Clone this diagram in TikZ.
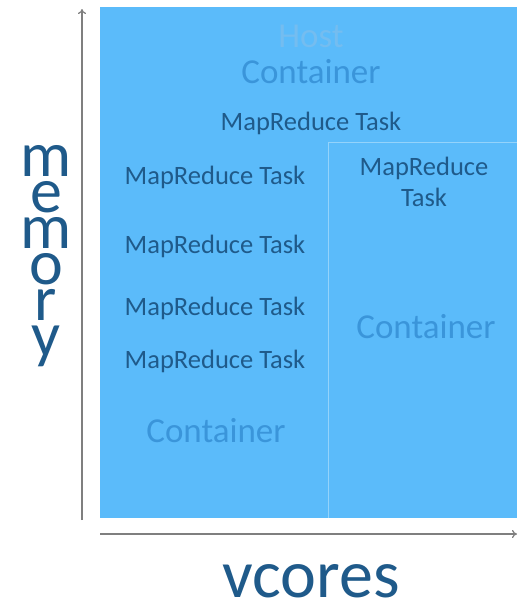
\documentclass[tikz,border=0pt]{standalone}
\usepackage{fontspec}
\setmainfont{Carlito}
\usetikzlibrary{arrows.meta}

\definecolor{hostfill}{HTML}{5BBBFA}
\definecolor{splitline}{HTML}{94D3FB}
\definecolor{taskblue}{HTML}{1F5A8A}
\definecolor{contblue}{HTML}{3A95DA}
\definecolor{hostword}{HTML}{74BDF0}
\definecolor{axisgray}{HTML}{7F7F7F}

\tikzset{
  box/.style={inner sep=0pt, outer sep=0pt},
  task/.style={anchor=base, inner sep=0pt, text=taskblue, font=\fontsize{26.5}{30}\selectfont},
  contlabel/.style={anchor=base, inner sep=0pt, text=contblue, font=\fontsize{35}{40}\selectfont},
  axislabel/.style={inner sep=0pt, text=taskblue},
  axis/.style={draw=axisgray, line width=1.2pt, -{To[length=5pt,width=8pt]}},
}

\begin{document}
% fixed baseline spacing for the stacked axis word
\setlength{\lineskiplimit}{-100pt}
\begin{tikzpicture}[x=1pt, y=-1pt]
\useasboundingbox (0,0) rectangle (517,605);

% host area and the two containers inside it
\node[box, fill=hostfill, minimum width=417pt, minimum height=511pt, anchor=north west] (host) at (100,7) {};
\node[box, minimum width=228pt, minimum height=376pt, anchor=south west] (leftc) at (host.south west) {};
\node[box, minimum width=189pt, minimum height=376pt, anchor=south east] (rightc) at (host.south east) {};
\draw[splitline, line width=0.8pt] (rightc.south west) -- (rightc.north west) -- (rightc.north east);

% host labels
\node[contlabel, text=hostword] (hostlbl) at (311,47) {Host};
\node[contlabel] (hostcont) at (311,83) {Container};
\node[task] (t0) at (311,130) {MapReduce Task};

% left container
\node[task] (t1) at (215,184) {MapReduce Task};
\node[task] (t2) at (215,253) {MapReduce Task};
\node[task] (t3) at (215,315) {MapReduce Task};
\node[task] (t4) at (215,368) {MapReduce Task};
\node[contlabel] (lcont) at (216,442) {Container};

% right container
\node[task] (r1a) at (424,175) {MapReduce};
\node[task] (r1b) at (424,206) {Task};
\node[contlabel] (rcont) at (426,338) {Container};

% axes
\coordinate (yo) at (82,520);
\coordinate (yt) at (82,9);
\coordinate (xo) at (100,534);
\coordinate (xt) at (517,534);
\draw[axis] (yo) -- (yt);
\draw[axis] (xo) -- (xt);

% axis labels: memory is stacked letter by letter, baselines 36pt apart
\node[axislabel, align=center, font=\fontsize{64}{36}\selectfont]
  (memory) at (46,256.5) {m\\e\\m\\o\\r\\y};
\node[axislabel, anchor=base, font=\fontsize{68}{70}\selectfont] (vcores) at (311,597) {vcores};
\end{tikzpicture}
\end{document}
